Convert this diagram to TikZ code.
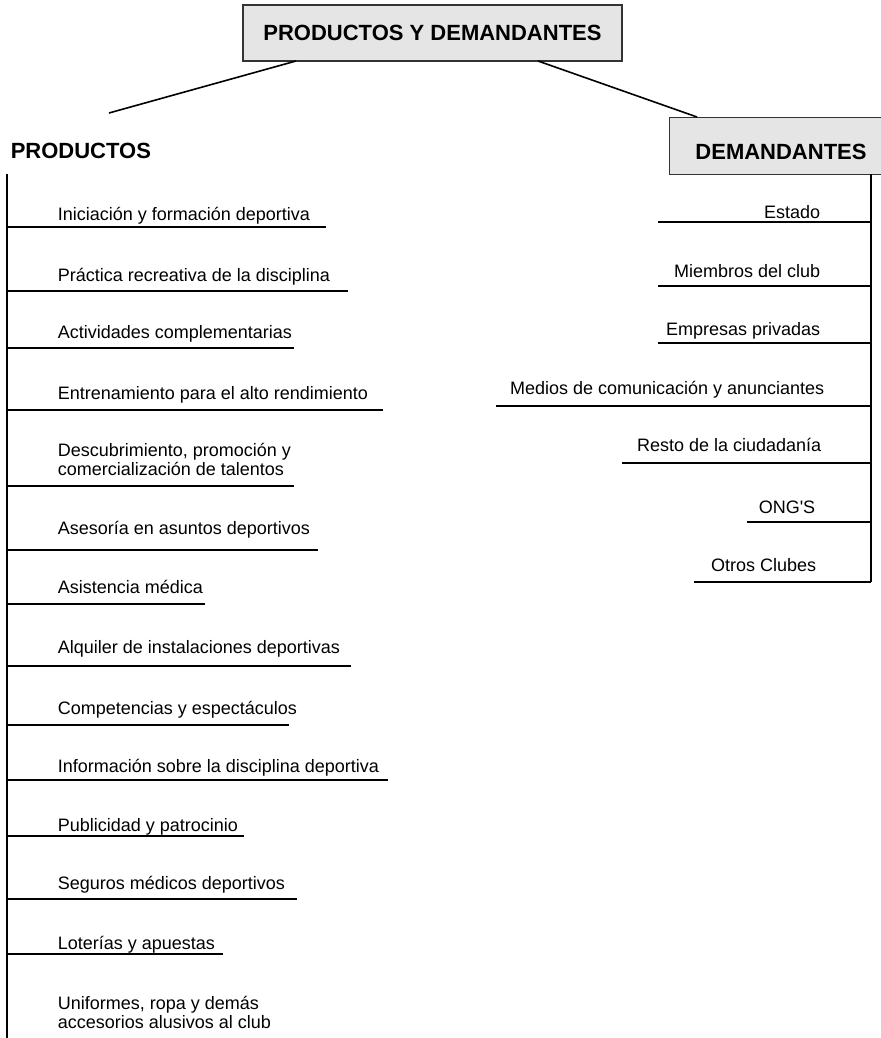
\documentclass[tikz,border=0pt]{standalone}
\usepackage{fontspec}
\setmainfont{Liberation Sans}
\begin{document}
\begin{tikzpicture}[x=0.5pt,y=-0.5pt,line width=0.8pt,
  titlebox/.style={draw=black!80,fill=black!10,line width=0.7pt,inner sep=0pt,
    font=\fontsize{11}{13}\selectfont\bfseries},
  head/.style={anchor=base west,inner sep=0pt,font=\fontsize{11}{13}\selectfont\bfseries},
  prod/.style={anchor=base west,inner sep=0pt,align=left,font=\fontsize{9}{9.5}\selectfont},
  dem/.style={anchor=base east,inner sep=0pt,font=\fontsize{9}{9.5}\selectfont}]
\useasboundingbox (0,0) rectangle (881,1038);

\node[titlebox,minimum width=189.5pt,minimum height=28pt] (top) at (432.5,33) {PRODUCTOS Y DEMANDANTES};
\node[head] (productos) at (10,158) {PRODUCTOS};
\node[titlebox,minimum width=112pt,minimum height=28.5pt,anchor=north west] (demandantes) at (669,117) {};
\node[head,anchor=base] (demtext) at (781,159) {DEMANDANTES};

\coordinate (t1) at (296,61);
\coordinate (t2) at (538,61);
\coordinate (pend) at (109,113);
\coordinate (dend) at (697,117);
\draw (t1) -- (pend);
\draw (t2) -- (dend);

% productos
\coordinate (ptop) at (7,174);
\coordinate (pbot) at (7,1040);
\draw (ptop) -- (pbot);
\node[prod] (p1) at (57,220) {Iniciación y formación deportiva};
\draw (7,227) -- (326,227);
\node[prod] (p2) at (57,281) {Práctica recreativa de la disciplina};
\draw (7,291) -- (348,291);
\node[prod] (p3) at (57,338) {Actividades complementarias};
\draw (7,348) -- (294,348);
\node[prod] (p4) at (57,399) {Entrenamiento para el alto rendimiento};
\draw (7,410) -- (383,410);
\node[prod] (p5) at (57,475) {Descubrimiento, promoción y\\comercialización de talentos};
\draw (7,486) -- (294,486);
\node[prod] (p6) at (57,534) {Asesoría en asuntos deportivos};
\draw (7,550) -- (318,550);
\node[prod] (p7) at (57,593) {Asistencia médica};
\draw (7,604) -- (205,604);
\node[prod] (p8) at (57,653) {Alquiler de instalaciones deportivas};
\draw (7,666) -- (351,666);
\node[prod] (p9) at (57,714) {Competencias y espectáculos};
\draw (7,725) -- (289,725);
\node[prod] (p10) at (57,772) {Información sobre la disciplina deportiva};
\draw (7,780) -- (388,780);
\node[prod] (p11) at (57,831) {Publicidad y patrocinio};
\draw (7,836) -- (244,836);
\node[prod] (p12) at (57,889) {Seguros médicos deportivos};
\draw (7,899) -- (297,899);
\node[prod] (p13) at (57,949) {Loterías y apuestas};
\draw (7,954) -- (223,954);
\node[prod] (p14) at (57,1028) {Uniformes, ropa y demás\\accesorios alusivos al club};

% demandantes
\coordinate (dtop) at (871,174);
\coordinate (dbot) at (871,582);
\draw (dtop) -- (dbot);
\node[dem] (d1) at (821,218) {Estado};
\draw (658,222) -- (871,222);
\node[dem] (d2) at (821,277) {Miembros del club};
\draw (658,286) -- (871,286);
\node[dem] (d3) at (821,335) {Empresas privadas};
\draw (658,343) -- (871,343);
\node[dem] (d4) at (825,394) {Medios de comunicación y anunciantes};
\draw (496,406) -- (871,406);
\node[dem] (d5) at (822,451) {Resto de la ciudadanía};
\draw (622,463) -- (871,463);
\node[dem] (d6) at (816,513) {ONG\textquotesingle S};
\draw (747,522) -- (871,522);
\node[dem] (d7) at (817,571) {Otros Clubes};
\draw (694,582) -- (871,582);
\end{tikzpicture}
\end{document}
